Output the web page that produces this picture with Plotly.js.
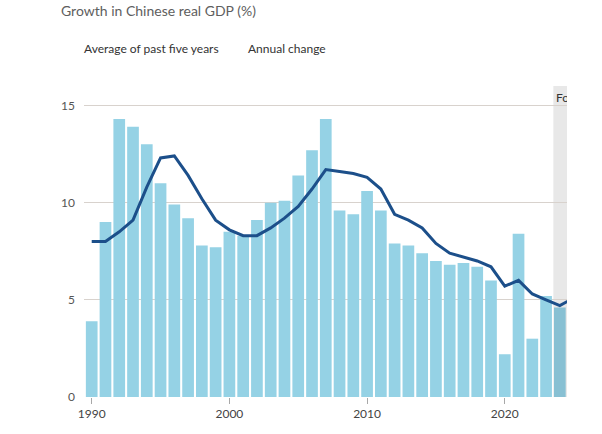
<!DOCTYPE html>
<html>
<head>
<meta charset="utf-8">
<script src="https://cdn.plot.ly/plotly-3.0.1.min.js"></script>
<style>
  html, body { margin: 0; padding: 0; background: #ffffff; }
  #wrap { width: 567px; height: 434px; overflow: hidden; }
</style>
</head>
<body>
<div id="wrap"><div id="chart" style="width:567px;height:434px;"></div></div>
<script>
// Data
const years = [1990,1991,1992,1993,1994,1995,1996,1997,1998,1999,
               2000,2001,2002,2003,2004,2005,2006,2007,2008,2009,
               2010,2011,2012,2013,2014,2015,2016,2017,2018,2019,
               2020,2021,2022,2023,2024];
const annualChange = [3.9,9.0,14.3,13.9,13.0,11.0,9.9,9.2,7.8,7.7,
                      8.5,8.3,9.1,10.0,10.1,11.4,12.7,14.3,9.6,9.4,
                      10.6,9.6,7.9,7.8,7.4,7.0,6.8,6.9,6.7,6.0,
                      2.2,8.4,3.0,5.2,4.6];
const avgYears = [1990,1991,1992,1993,1994,1995,1996,1997,1998,1999,
                  2000,2001,2002,2003,2004,2005,2006,2007,2008,2009,
                  2010,2011,2012,2013,2014,2015,2016,2017,2018,2019,
                  2020,2021,2022,2023,2024,2025];
const avgFiveYears = [8.0,8.0,8.5,9.1,10.8,12.3,12.4,11.4,10.2,9.1,
                      8.6,8.3,8.3,8.7,9.2,9.8,10.7,11.7,11.6,11.5,
                      11.3,10.7,9.4,9.1,8.7,7.9,7.4,7.2,7.0,6.7,
                      5.7,6.0,5.3,5.0,4.7,5.1];
const forecastStart = 2024;
const yTicks = [0,5,10,15];
const xTicks = [1990,2000,2010,2020];

const barColor = '#95d2e5';
const forecastBarColor = '#88c0d3';
const lineColor = '#1c4f8a';
const fontFam = 'Lato, "Open Sans", sans-serif';

const traces = [
  {
    type: 'bar',
    x: years,
    y: annualChange,
    marker: { color: years.map(y => y >= forecastStart ? forecastBarColor : barColor) },
    hoverinfo: 'x+y',
    showlegend: false
  },
  {
    type: 'scatter',
    mode: 'lines',
    x: avgYears,
    y: avgFiveYears,
    line: { color: lineColor, width: 3 },
    showlegend: false
  }
];

const layout = {
  width: 567,
  height: 434,
  margin: { l: 84, r: 0, t: 86, b: 37 },
  paper_bgcolor: '#ffffff',
  plot_bgcolor: 'rgba(0,0,0,0)',
  bargap: 0.15,
  font: { family: fontFam, size: 12, color: '#444' },
  title: {
    text: 'Growth in Chinese real GDP (%)',
    font: { family: fontFam, size: 14, color: '#5e5e5e' },
    x: 61 / 567, xanchor: 'left', xref: 'container',
    y: 1 - 11 / 434, yanchor: 'middle', yref: 'container'
  },
  xaxis: {
    range: [1989.44, 2024.52],
    tickvals: xTicks,
    ticktext: xTicks.map(String),
    ticks: 'outside',
    ticklen: 6,
    tickcolor: '#a8a8a8',
    tickwidth: 1,
    showgrid: false,
    zeroline: false,
    showline: false,
    tickfont: { family: fontFam, size: 12, color: '#444' }
  },
  yaxis: {
    range: [0, 16],
    tickvals: yTicks,
    ticktext: yTicks.map(String),
    showgrid: true,
    gridcolor: '#d8d2cd',
    gridwidth: 1,
    zeroline: false,
    showline: false,
    ticks: '',
    ticklabelstandoff: 8,
    tickfont: { family: fontFam, size: 12, color: '#555' }
  },
  shapes: [
    {
      type: 'rect', xref: 'x', yref: 'y',
      x0: forecastStart - 0.47, x1: forecastStart + 5,
      y0: 0, y1: 16,
      fillcolor: '#e8e8e8', line: { width: 0 }, layer: 'below'
    }
  ],
  annotations: [
    {
      text: 'Average of past five years',
      xref: 'paper', yref: 'paper',
      x: (82 - 84) / 483, y: (397 - 48) / 311,
      xanchor: 'left', yanchor: 'middle', showarrow: false,
      font: { family: fontFam, size: 12, color: '#333' }
    },
    {
      text: 'Annual change',
      xref: 'paper', yref: 'paper',
      x: (245.5 - 84) / 483, y: (397 - 48) / 311,
      xanchor: 'left', yanchor: 'middle', showarrow: false,
      font: { family: fontFam, size: 12, color: '#333' }
    },
    {
      text: 'Forecast',
      xref: 'x', yref: 'y',
      x: forecastStart - 0.47, y: 15.43,
      xshift: 1,
      xanchor: 'left', yanchor: 'middle', showarrow: false,
      font: { family: fontFam, size: 12, color: '#333' }
    }
  ]
};

Plotly.newPlot('chart', traces, layout, { displayModeBar: false, staticPlot: true });
</script>
</body>
</html>
